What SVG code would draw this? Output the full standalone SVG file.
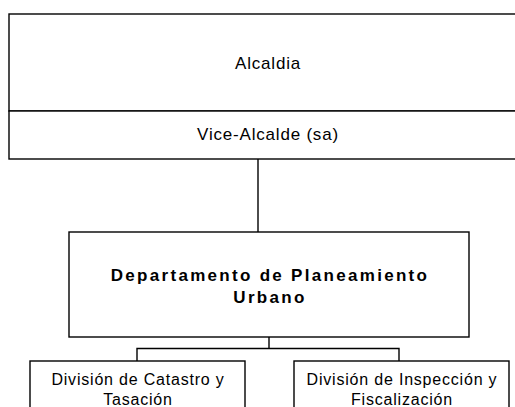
<svg xmlns="http://www.w3.org/2000/svg" width="515" height="407" viewBox="0 0 515 407">
<style>
.box{fill:#fff;stroke:#000;stroke-width:1.4}
.ln{fill:none;stroke:#000;stroke-width:1.4}
text{font-family:"Liberation Sans",Arial,sans-serif;fill:#000;text-anchor:middle}
.t{font-size:17px;letter-spacing:0.8px}
.b{font-size:17px;font-weight:bold;letter-spacing:2.3px}
.s{font-size:16px;letter-spacing:0.8px}
</style>
<rect width="515" height="407" fill="#fff"/>
<g id="connectors">
<path class="ln" d="M258 159V232"/>
<path class="ln" d="M269 337V348.5H137V361M269 348.5H399V361"/>
</g>
<g id="alcaldia">
<rect class="box" x="9" y="14" width="520" height="97"/>
<text class="t" x="268" y="69">Alcaldia</text>
</g>
<g id="vicealcalde">
<rect class="box" x="9" y="111" width="520" height="48"/>
<text class="t" x="268" y="140">Vice-Alcalde (sa)</text>
</g>
<g id="departamento">
<rect class="box" x="69" y="232" width="400" height="105"/>
<text class="b" x="270" y="281">Departamento de Planeamiento</text>
<text class="b" x="270" y="303">Urbano</text>
</g>
<g id="catastro">
<rect class="box" x="30" y="361" width="215" height="60"/>
<text class="s" x="138" y="385">División de Catastro y</text>
<text class="s" x="138" y="405">Tasación</text>
</g>
<g id="inspeccion">
<rect class="box" x="294" y="361" width="215" height="60"/>
<text class="s" x="402" y="385">División de Inspección y</text>
<text class="s" x="402" y="405">Fiscalización</text>
</g>
</svg>
